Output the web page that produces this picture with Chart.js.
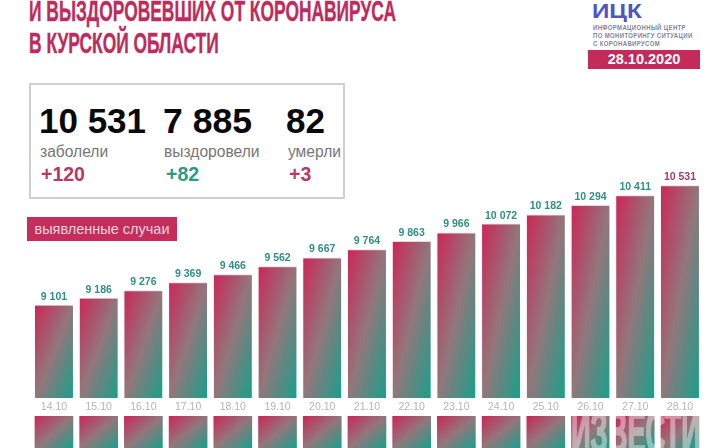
<!DOCTYPE html>
<html lang="ru">
<head>
  <meta charset="UTF-8">
  <title>Курская область</title>
  <script src="https://cdn.jsdelivr.net/npm/chart.js"></script>
  <style>
    html, body { margin: 0; padding: 0; background: #fff; }
    #page { position: relative; width: 728px; height: 448px; overflow: hidden; font-family: "Liberation Sans", Arial, sans-serif; }
    #page > div { position: absolute; white-space: nowrap; }
    .title { left: 29px; font-weight: bold; font-size: 30px; line-height: 30px; color: #bd2c5c; transform-origin: 0 0; transform: scaleX(0.58); -webkit-text-stroke: 0.4px #bd2c5c; }
    #logo { left: 592px; top: 0px; font-size: 21px; line-height: 21px; font-weight: bold; color: #4c57c4; transform-origin: 0 0; transform: scaleX(1.15); }
    .logo-sub { left: 593px; font-size: 7.2px; line-height: 8px; font-weight: bold; color: #8185a0; letter-spacing: 0.45px; transform-origin: 0 0; transform: scaleX(0.83); }
    #date { left: 588px; top: 50px; width: 112px; height: 19px; background: #c42a5a; color: #fff; font-weight: bold; font-size: 14.5px; line-height: 19px; text-align: center; }
    #box { left: 29px; top: 83px; width: 312px; height: 112px; border: 2px solid #cfcfcf; }
    .big { top: 101px; font-size: 35px; line-height: 40px; font-weight: bold; color: #0a0a0a; }
    .sub { top: 143px; font-size: 15.6px; line-height: 18px; color: #777; }
    .delta { top: 163px; font-size: 19.5px; line-height: 22px; font-weight: bold; }
    #pill { left: 27px; top: 217px; width: 150px; height: 24px; background: #c42e5c; color: #f0d3dc; font-size: 14.5px; line-height: 24px; text-align: center; }
    #watermark { left: 571px; top: 401px; font-weight: bold; font-size: 62px; line-height: 62px; color: #fff; -webkit-text-stroke: 2px #fff; opacity: 0.42; z-index: 3; transform-origin: 0 0; transform: scaleX(0.44); }
    #main-wrap { left: 0; top: 0; width: 728px; height: 416px; }
    #lower-wrap { left: 0; top: 416px; width: 728px; height: 32px; }
  </style>
</head>
<body>
  <div id="page">
    <div class="title" style="top:-4px">И ВЫЗДОРОВЕВШИХ ОТ КОРОНАВИРУСА</div>
    <div class="title" style="top:28px">В КУРСКОЙ ОБЛАСТИ</div>

    <div id="logo">ИЦК</div>
    <div class="logo-sub" style="top:24px">ИНФОРМАЦИОННЫЙ ЦЕНТР</div>
    <div class="logo-sub" style="top:32px">ПО МОНИТОРИНГУ СИТУАЦИИ</div>
    <div class="logo-sub" style="top:40px">С КОРОНАВИРУСОМ</div>
    <div id="date">28.10.2020</div>

    <div id="box"></div>
    <div class="big" style="left:39px">10 531</div>
    <div class="big" style="left:163px;font-size:35.6px">7 885</div>
    <div class="big" style="left:286px">82</div>
    <div class="sub" style="left:40px">заболели</div>
    <div class="sub" style="left:164px">выздоровели</div>
    <div class="sub" style="left:288px">умерли</div>
    <div class="delta" style="left:41px;color:#b8386a">+120</div>
    <div class="delta" style="left:166px;color:#2a9a86">+82</div>
    <div class="delta" style="left:289px;color:#b8386a">+3</div>

    <div id="pill">выявленные случаи</div>

    <div id="main-wrap"><canvas id="mainChart" width="728" height="416"></canvas></div>
    <div id="lower-wrap"><canvas id="lowerChart" width="728" height="32"></canvas></div>
    <div id="watermark">ИЗВЕСТИ</div>
  </div>

  <script>
    const dates = ["14.10", "15.10", "16.10", "17.10", "18.10", "19.10", "20.10", "21.10", "22.10", "23.10", "24.10", "25.10", "26.10", "27.10", "28.10"];
    const cases = [9101, 9186, 9276, 9369, 9466, 9562, 9667, 9764, 9863, 9966, 10072, 10182, 10294, 10411, 10531];
    // second row is cut off by the bottom of the picture, only the tops show
    const lowerRow = [1, 1, 1, 1, 1, 1, 1, 1, 1, 1, 1, 1, 1, 1, 1];

    const crimson = "#cb2758";
    const middle = "#93767b";
    const teal = "#18a08b";

    // corner to corner gradient, the top right and bottom left stay at the middle colour
    function barGradient(ctx, left, top, right, bottom) {
      const w = right - left;
      const h = bottom - top;
      const len = Math.sqrt(w * w + h * h);
      const half = w * h / len;
      const cx = (left + right) / 2;
      const cy = (top + bottom) / 2;
      const dx = h / len;
      const dy = w / len;
      const g = ctx.createLinearGradient(cx - dx * half, cy - dy * half, cx + dx * half, cy + dy * half);
      g.addColorStop(0, crimson);
      g.addColorStop(0.5, middle);
      g.addColorStop(1, teal);
      return g;
    }

    function barFill(context) {
      const chart = context.chart;
      if (!chart.chartArea) return crimson;
      const x = chart.scales.x;
      const y = chart.scales.y;
      const cx = x.getPixelForValue(context.dataIndex);
      const top = y.getPixelForValue(context.dataset.data[context.dataIndex]);
      return barGradient(chart.ctx, cx - 19, top, cx + 19, y.bottom);
    }

    const valueLabels = {
      id: "valueLabels",
      afterDatasetsDraw(chart) {
        const ctx = chart.ctx;
        const bars = chart.getDatasetMeta(0).data;
        ctx.save();
        ctx.font = "bold 10.5px 'Liberation Sans', Arial, sans-serif";
        ctx.textAlign = "center";
        ctx.textBaseline = "bottom";
        bars.forEach((bar, i) => {
          ctx.fillStyle = i === bars.length - 1 ? "#a83a68" : "#2f8f82";
          const text = String(cases[i]).replace(/(\d)(\d{3})$/, "$1 $2");
          ctx.fillText(text, bar.x, bar.y - 3);
        });
        ctx.restore();
      }
    };

    new Chart(document.getElementById("mainChart"), {
      type: "bar",
      data: {
        labels: dates,
        datasets: [{
          data: cases,
          backgroundColor: barFill,
          borderColor: "#e4d6da",
          borderWidth: { top: 1, left: 0, right: 0, bottom: 0 },
          barThickness: 38
        }]
      },
      options: {
        responsive: false,
        animation: false,
        layout: { padding: { left: 31.6, right: 25.7, top: 170, bottom: 0 } },
        plugins: { legend: { display: false }, tooltip: { enabled: false } },
        scales: {
          x: {
            grid: { display: false, drawTicks: false },
            border: { display: false },
            afterFit(scale) { scale.height = 18; },
            ticks: { color: "#b4b4b4", font: { size: 10.5, family: "'Liberation Sans', Arial, sans-serif" }, maxRotation: 0, autoSkip: false, padding: 3 }
          },
          y: { display: false, min: 7990, max: 10717 }
        }
      },
      plugins: [valueLabels]
    });

    new Chart(document.getElementById("lowerChart"), {
      type: "bar",
      data: {
        labels: dates,
        datasets: [{
          data: lowerRow,
          backgroundColor: barFill,
          barThickness: 38
        }]
      },
      options: {
        responsive: false,
        animation: false,
        layout: { padding: { left: 31.6, right: 25.7, top: 0, bottom: 0 } },
        plugins: { legend: { display: false }, tooltip: { enabled: false } },
        scales: {
          x: { display: false },
          y: { display: false, min: 0, max: 1 }
        }
      }
    });
  </script>
</body>
</html>
